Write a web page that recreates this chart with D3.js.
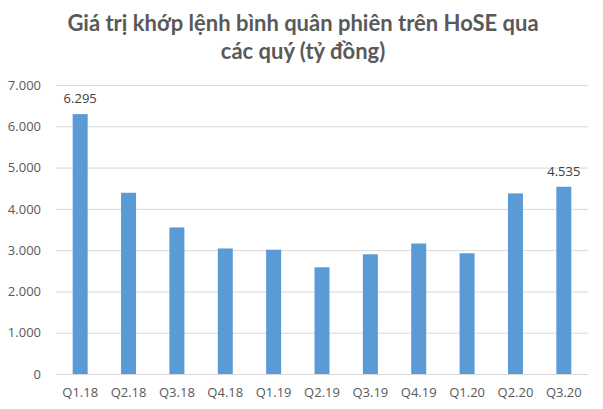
<!DOCTYPE html>
<html><head><meta charset="utf-8">
<script src="https://cdn.jsdelivr.net/npm/d3@7"></script>
<style>body{margin:0;background:#fff}svg{display:block}</style>
</head><body>
<svg id="c" width="603" height="409"></svg>
<script>
const categories = ["Q1.18","Q2.18","Q3.18","Q4.18","Q1.19","Q2.19","Q3.19","Q4.19","Q1.20","Q2.20","Q3.20"];
const values = [6295, 4390, 3550, 3040, 3010, 2585, 2900, 3160, 2925, 4375, 4535];
const labelShown = ["6.295", null, null, null, null, null, null, null, null, null, "4.535"];
const yTicks = [0,1000,2000,3000,4000,5000,6000,7000];
const titleLines = ["Giá trị khớp lệnh bình quân phiên trên HoSE qua", "các quý (tỷ đồng)"];

const svg = d3.select("#c");
const m = {left:56, right:15, top:85, bottom:35};
const W = 603, H = 409;
const x = d3.scaleBand().domain(categories).range([m.left, W - m.right]).paddingInner(0.69).paddingOuter(0.345);
const y = d3.scaleLinear().domain([0,7000]).range([H - m.bottom, m.top]);
const fmt = v => d3.format(",")(v).replace(/,/g, ".");

svg.append("g").selectAll("text").data(titleLines).join("text")
  .attr("x", 303).attr("y", (d,i) => 31 + i*28)
  .attr("text-anchor","middle").attr("font-family","Lato, 'Open Sans', sans-serif")
  .attr("font-weight","bold").attr("font-size",22).attr("fill","#595959").text(d=>d);

const yAxis = svg.append("g").attr("transform",`translate(${m.left},0)`)
  .call(d3.axisLeft(y).tickValues(yTicks).tickFormat(fmt).tickSize(-(W - m.right - m.left)).tickPadding(15));
yAxis.select(".domain").remove();
yAxis.selectAll("line").attr("stroke","#d9d9d9").attr("stroke-width",1);
yAxis.selectAll("text").attr("font-family","'Open Sans', sans-serif").attr("font-size",13).attr("fill","#595959");

svg.append("g").selectAll("rect").data(values).join("rect")
  .attr("x",(d,i)=>x(categories[i])).attr("width",x.bandwidth())
  .attr("y",d=>y(d)).attr("height",d=>y(0)-y(d)).attr("fill","#5b9bd5");

const xAxis = svg.append("g").attr("transform",`translate(0,${y(0)})`)
  .call(d3.axisBottom(x).tickSize(0).tickPadding(14));
xAxis.select(".domain").attr("stroke","#d9d9d9");
xAxis.selectAll("text").attr("font-family","'Open Sans', sans-serif").attr("font-size",13).attr("fill","#595959");

const labelData = values.map((v,i)=>({cat:categories[i], v, lab:labelShown[i]})).filter(d=>d.lab);
svg.append("g").selectAll("text").data(labelData).join("text")
  .attr("x",d=>x(d.cat) + x.bandwidth()/2)
  .attr("y",d=>y(d.v) - 11).attr("text-anchor","middle")
  .attr("font-family","'Open Sans', sans-serif").attr("font-size",13).attr("fill","#404040")
  .text(d=>d.lab);
</script>
</body></html>
